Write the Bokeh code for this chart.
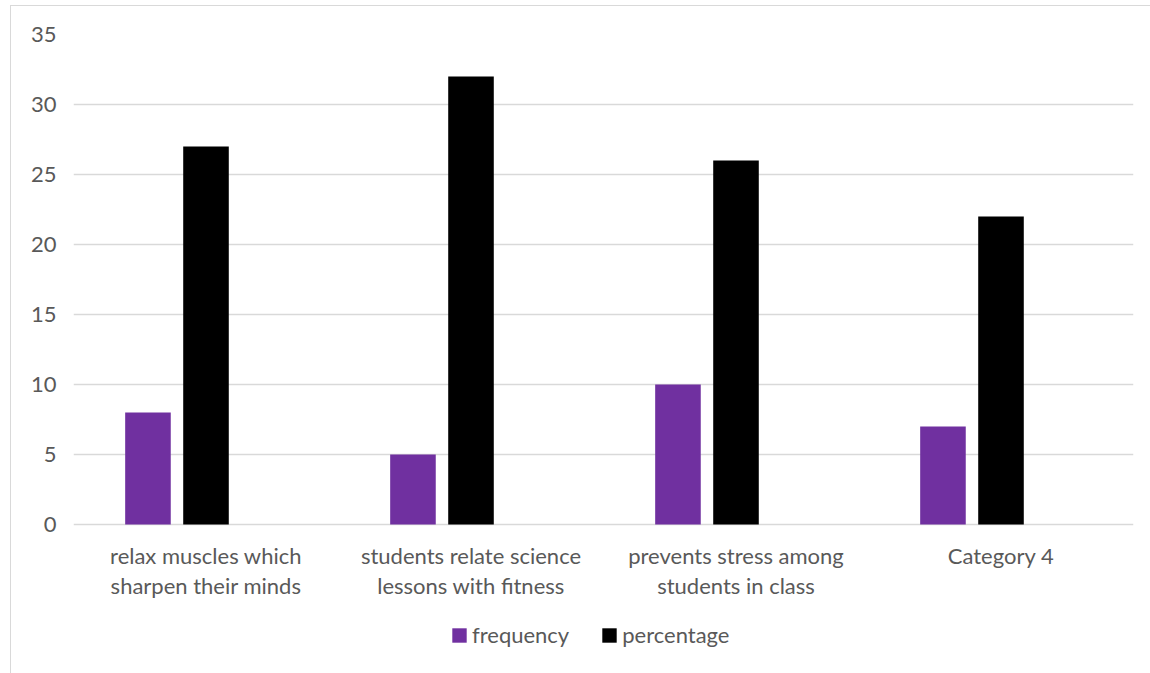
from bokeh.plotting import figure
from bokeh.models import (FactorRange, Range1d, Legend, LegendItem, ColumnDataSource,
                          FixedTicker)
from bokeh.core.properties import value
from bokeh.transform import dodge
from bokeh.embed import file_html
from bokeh.resources import INLINE

# chart data
categories = [
    "relax muscles which\nsharpen their minds",
    "students relate science\nlessons with fitness",
    "prevents stress among\nstudents in class",
    "Category 4",
]
frequency = [8, 5, 10, 7]
percentage = [27, 32, 26, 22]
y_ticks = [0, 5, 10, 15, 20, 25, 30, 35]

FONT = "Lato"
TEXT = "#595959"
GRID = "#D9D9D9"
PX_PER_UNIT = 14          # vertical scale of the value axis
FRAME_H = 639             # plot area runs from the top tick down to the page bottom

src = ColumnDataSource(dict(cat=categories, frequency=frequency, percentage=percentage,
                            base=[0] * len(categories)))

p = figure(
    x_range=FactorRange(*categories, range_padding=0),
    y_range=Range1d(max(y_ticks) - FRAME_H / PX_PER_UNIT, max(y_ticks)),
    frame_width=1060, frame_height=FRAME_H,
    min_border_left=62, min_border_right=17, min_border_top=28, min_border_bottom=0,
    output_backend="svg", toolbar_location=None,
)
p.margin = (5, 0, 0, 10)
p.styles = {"border-left": f"1px solid {GRID}", "border-top": f"1px solid {GRID}"}
p.outline_line_color = None
p.background_fill_color = "white"
p.border_fill_color = "white"

r_freq = p.vbar(x=dodge("cat", -0.219, range=p.x_range), top="frequency", bottom="base",
                width=0.172, source=src, fill_color="#7030A0", line_color=None)
r_pct = p.vbar(x=dodge("cat", 0.0, range=p.x_range), top="percentage", bottom="base",
               width=0.172, source=src, fill_color="#000000", line_color=None)

# category labels under the baseline
p.text(x="cat", y="base", text="cat", source=src, y_offset=17,
       text_align="center", text_baseline="top", text_font=value(FONT),
       text_font_size="22px", text_color=TEXT, text_line_height=1.14)

# value axis
p.yaxis.ticker = FixedTicker(ticks=y_ticks)
p.yaxis.axis_line_color = None
p.yaxis.major_tick_line_color = None
p.yaxis.minor_tick_line_color = None
p.yaxis.major_label_standoff = 11
p.yaxis.major_label_text_font = FONT
p.yaxis.major_label_text_font_size = "22px"
p.yaxis.major_label_text_color = TEXT

p.xaxis.visible = False
p.xgrid.grid_line_color = None
p.ygrid.ticker = FixedTicker(ticks=y_ticks)
p.ygrid.grid_line_color = GRID
p.ygrid.grid_line_width = 1.5

legend = Legend(
    items=[LegendItem(label="frequency", renderers=[r_freq]),
           LegendItem(label="percentage", renderers=[r_pct])],
    orientation="horizontal",
    location=(377, 25),
    glyph_width=18, glyph_height=18,
    label_standoff=4, spacing=31, padding=0, margin=0,
    label_text_font=FONT, label_text_font_size="22px", label_text_color=TEXT,
    border_line_color=None, background_fill_alpha=0,
)
p.add_layout(legend, "center")

open("out.html", "w").write(file_html(p, INLINE))
